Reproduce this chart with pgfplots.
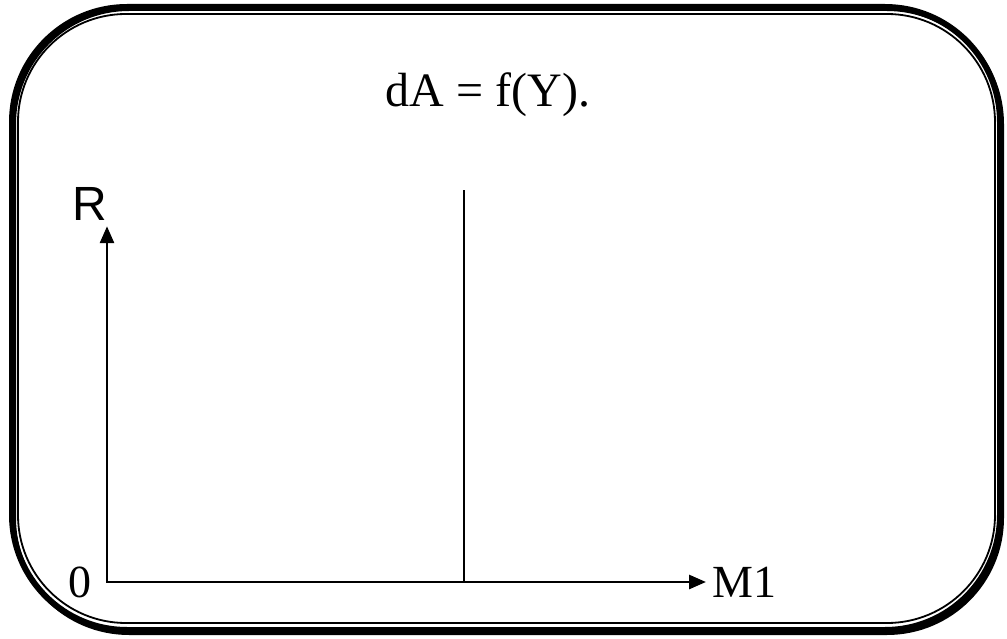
\documentclass[border=0pt]{standalone}
\usepackage{pgfplots}
\pgfplotsset{compat=1.18}
\usepackage{fontspec}
\setmainfont{Liberation Serif}
\newfontfamily\arial{Liberation Sans}
\usetikzlibrary{arrows.meta}
\begin{document}
\begin{tikzpicture}[x=1pt,y=1pt]
\useasboundingbox (0,0) rectangle (1007,638);
% framed panel: heavy outer rule with shadow, thin inner rule
\draw[line width=6pt, rounded corners=115pt] (12,8) rectangle (1000,631);
\draw[line width=4pt, rounded corners=115pt] (14,5) rectangle (1002,629);
\draw[line width=1.8pt, rounded corners=108pt] (18,15) rectangle (995,624);
\node[font=\fontsize{48}{50}\selectfont] at (488,543) {dA = f(Y).};
\begin{axis}[
  at={(107pt,56pt)}, anchor=south west,
  scale only axis, width=599pt, height=354pt,
  xmin=0, xmax=10, ymin=0, ymax=10,
  axis lines=none,
  xtick=\empty, ytick=\empty,
  clip=false,
]
% axes with arrow heads
\draw[line width=2.8pt, line join=miter,
      {Triangle[length=17pt,width=14pt]}-{Triangle[length=17pt,width=14pt]}]
  (axis cs:0,10.05) -- (axis cs:0,0) -- (axis cs:10,0);
% vertical schedule
\addplot[black, line width=1.6pt] coordinates {(5.96,0) (5.96,11.07)};
\node[font=\arial\fontsize{48}{50}\selectfont] at (axis cs:-0.28,10.68) {R};
\node[font=\fontsize{46}{48}\selectfont] at (axis cs:-0.45,0) {0};
\node[font=\fontsize{46}{48}\selectfont, anchor=west] at (axis cs:10.05,0) {M1};
\end{axis}
\end{tikzpicture}
\end{document}
